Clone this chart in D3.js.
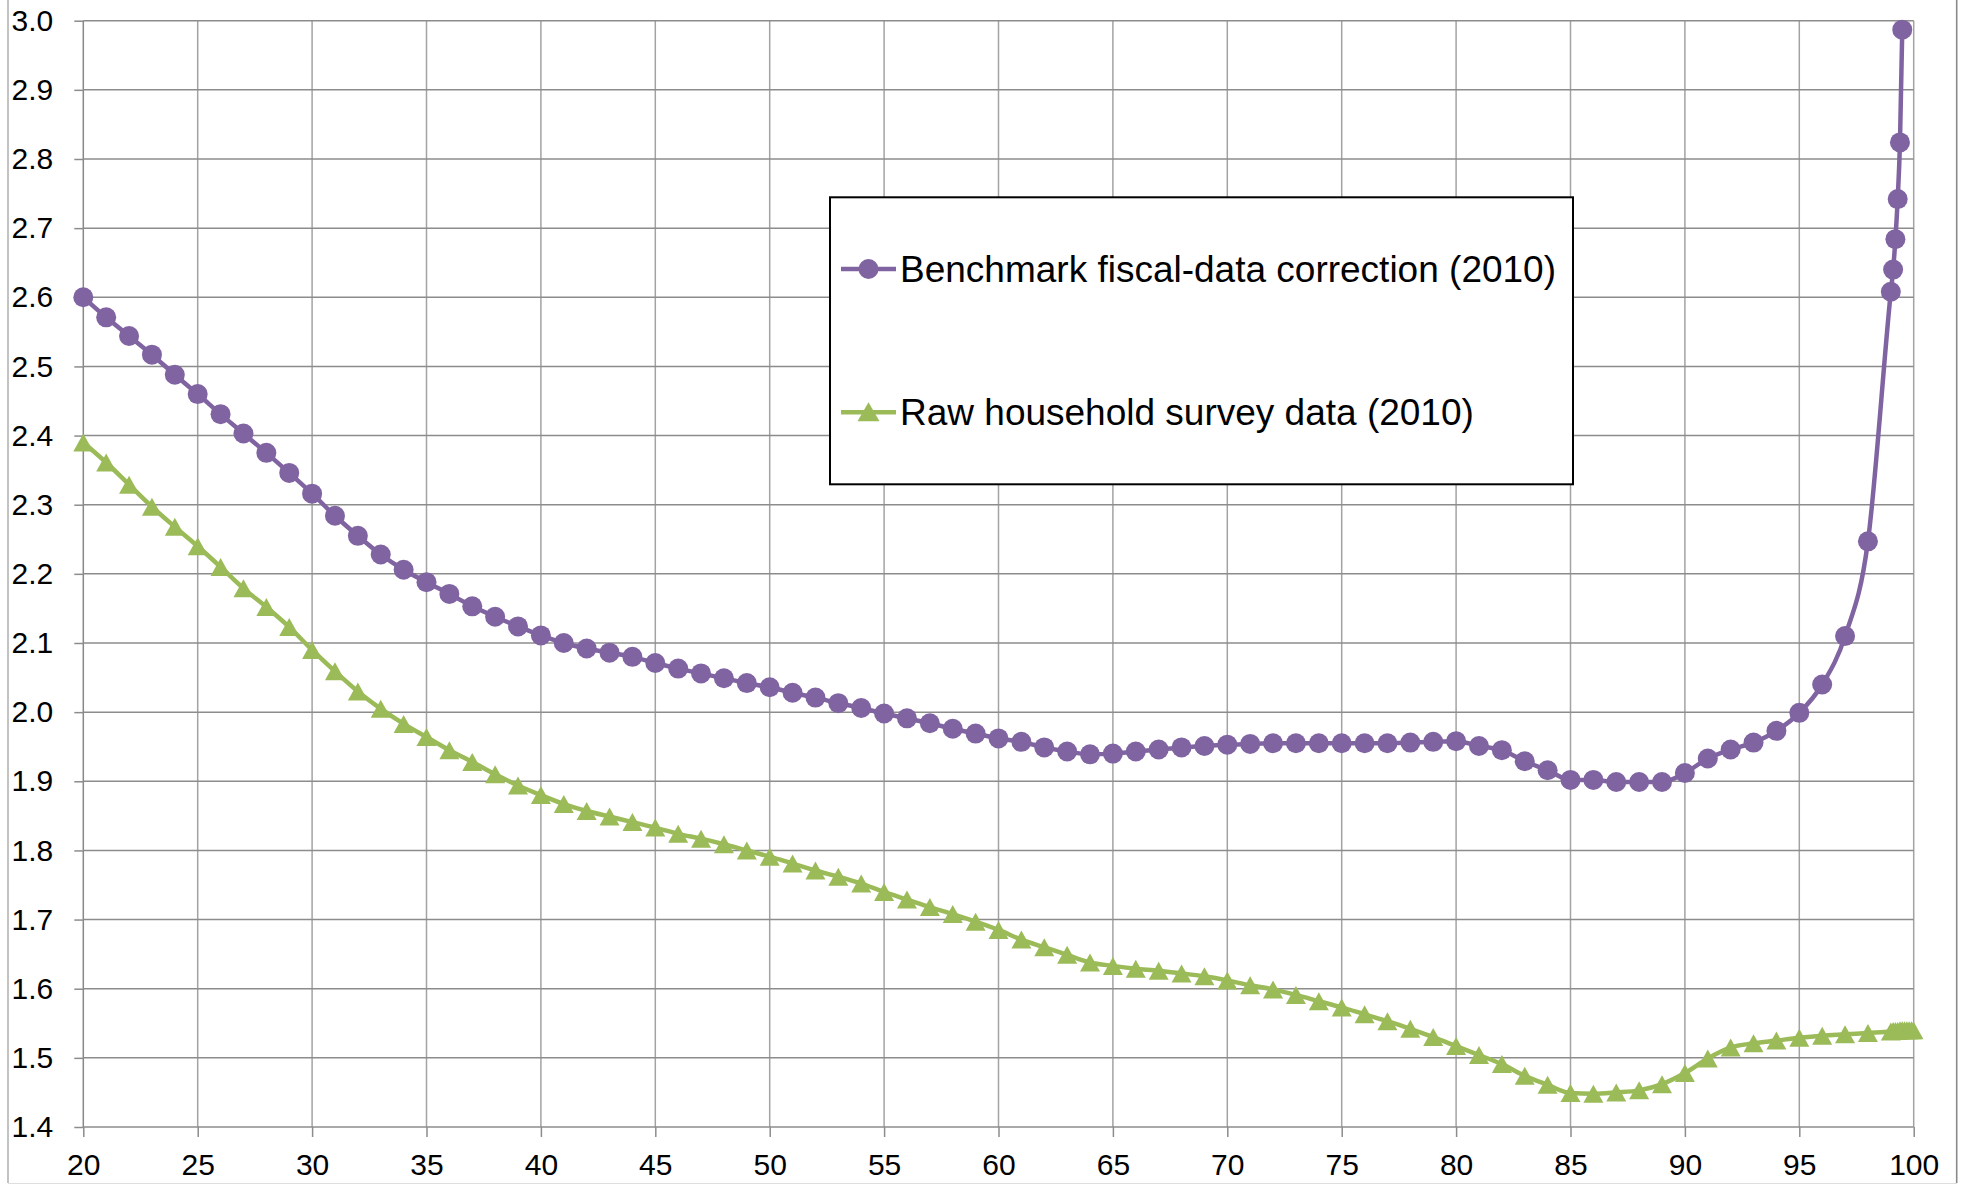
<!DOCTYPE html>
<html>
<head>
<meta charset="utf-8">
<script src="https://cdn.jsdelivr.net/npm/d3@7"></script>
<style>
  body { margin: 0; background: #fff; }
  svg { display: block; font-family: Arial, "Liberation Sans", sans-serif; }
</style>
</head>
<body>
<svg id="chart"></svg>
<script>
// percentiles shared by both series, then the extra top-percentile points
const percentiles = [20, 21, 22, 23, 24, 25, 26, 27, 28, 29, 30, 31, 32, 33, 34, 35, 36, 37, 38, 39,
                     40, 41, 42, 43, 44, 45, 46, 47, 48, 49, 50, 51, 52, 53, 54, 55, 56, 57, 58, 59,
                     60, 61, 62, 63, 64, 65, 66, 67, 68, 69, 70, 71, 72, 73, 74, 75, 76, 77, 78, 79,
                     80, 81, 82, 83, 84, 85, 86, 87, 88, 89, 90, 91, 92, 93, 94, 95, 96, 97, 98, 99];
const benchmarkTop = [99.1, 99.2, 99.3, 99.4, 99.5];
const surveyTop = [99.1, 99.2, 99.3, 99.4, 99.5, 99.6, 99.7, 99.8, 99.9, 99.99];

const benchmarkValues = [2.600, 2.571, 2.544, 2.517, 2.488, 2.460, 2.431, 2.403, 2.375, 2.346,
                         2.316, 2.284, 2.255, 2.228, 2.206, 2.188, 2.171, 2.153, 2.138, 2.124,
                         2.111, 2.100, 2.092, 2.086, 2.080, 2.071, 2.063, 2.056, 2.049, 2.042,
                         2.036, 2.028, 2.021, 2.013, 2.006, 1.998, 1.991, 1.984, 1.976, 1.969,
                         1.962, 1.957, 1.949, 1.943, 1.939, 1.940, 1.943, 1.946, 1.949, 1.951,
                         1.953, 1.954, 1.955, 1.955, 1.955, 1.955, 1.955, 1.955, 1.956, 1.957,
                         1.958, 1.951, 1.945, 1.929, 1.916, 1.902, 1.902, 1.899, 1.899, 1.899,
                         1.912, 1.933, 1.946, 1.956, 1.973, 1.999, 2.040, 2.110, 2.247, 2.608,
                         2.640, 2.684, 2.742, 2.824, 2.987];

const surveyValues = [2.390, 2.361, 2.329, 2.297, 2.268, 2.240, 2.210, 2.179, 2.152, 2.123,
                      2.090, 2.059, 2.030, 2.005, 1.983, 1.964, 1.945, 1.928, 1.910, 1.894,
                      1.880, 1.867, 1.857, 1.849, 1.841, 1.833, 1.824, 1.817, 1.809, 1.800,
                      1.791, 1.781, 1.771, 1.762, 1.752, 1.740, 1.729, 1.718, 1.708, 1.697,
                      1.685, 1.671, 1.660, 1.649, 1.638, 1.633, 1.629, 1.626, 1.622, 1.618,
                      1.612, 1.605, 1.599, 1.591, 1.582, 1.573, 1.563, 1.553, 1.542, 1.530,
                      1.517, 1.504, 1.491, 1.474, 1.461, 1.449, 1.448, 1.450, 1.453, 1.462,
                      1.478, 1.499, 1.515, 1.521, 1.525, 1.529, 1.532, 1.534, 1.536, 1.538,
                      1.539, 1.539, 1.539, 1.540, 1.540, 1.540, 1.540, 1.540, 1.540, 1.540];

const xTicks = [20, 25, 30, 35, 40, 45, 50, 55, 60, 65, 70, 75, 80, 85, 90, 95, 100];
const yTicks = [1.4, 1.5, 1.6, 1.7, 1.8, 1.9, 2.0, 2.1, 2.2, 2.3, 2.4, 2.5, 2.6, 2.7, 2.8, 2.9, 3.0];
const seriesNames = ['Benchmark fiscal-data correction (2010)', 'Raw household survey data (2010)'];


class PercentileChart {

    /**
     *  Two smoothed marker lines over percentiles, Excel look
     *
     *  @param {string} element - svg to draw into
     */

    constructor(element) {
        this.element = element;
        this.width = 1962;
        this.height = 1186;
        this.margin = { top: 20.7, right: 48.3, bottom: 59, left: 83.3 };
        this.colors = ['#8064a2', '#9bbb59'];

        this.init();
    }

    init() {
        let { element, width, height, margin } = this;
        let w = width - margin.left - margin.right;
        let h = height - margin.top - margin.bottom;

        this.svg = d3.select(element)
                     .attr('width', width)
                     .attr('height', height);

        // outer chart frame
        this.svg.append('line').attr('x1', 8).attr('x2', 8).attr('y1', 0).attr('y2', 1183)
            .attr('stroke', '#9a9a9a').attr('stroke-width', 1.2);
        this.svg.append('line').attr('x1', 1956.7).attr('x2', 1956.7).attr('y1', 0).attr('y2', 1183)
            .attr('stroke', '#8a8a8a').attr('stroke-width', 1.6);
        this.svg.append('line').attr('x1', 8).attr('x2', 1957).attr('y1', 1183.5).attr('y2', 1183.5)
            .attr('stroke', '#dedede').attr('stroke-width', 1);

        let g = this.svg.append('g')
                    .attr('transform', `translate(${margin.left},${margin.top})`);

        this.x = d3.scaleLinear().domain([20, 100]).range([0, w]);
        this.y = d3.scaleLinear().domain([1.4, 3.0]).range([h, 0]);

        // grid
        g.append('g').selectAll('line').data(xTicks).join('line')
            .attr('x1', d => this.x(d)).attr('x2', d => this.x(d))
            .attr('y1', 0).attr('y2', h)
            .attr('stroke', d => d === 20 ? '#888' : '#a3a3a3')
            .attr('stroke-width', 1.5);
        g.append('g').selectAll('line').data(yTicks).join('line')
            .attr('x1', 0).attr('x2', w)
            .attr('y1', d => this.y(d)).attr('y2', d => this.y(d))
            .attr('stroke', '#8c8c8c')
            .attr('stroke-width', 1.5);

        this.yAxis = d3.axisLeft(this.y).tickValues(yTicks)
                       .tickFormat(d3.format('.1f')).tickSize(9).tickPadding(21);
        this.xAxis = d3.axisBottom(this.x).tickValues(xTicks)
                       .tickFormat(d3.format('d')).tickSize(10).tickPadding(17);

        let ya = g.append('g').call(this.yAxis);
        let xa = g.append('g').attr('transform', `translate(0,${h})`).call(this.xAxis);
        [ya, xa].forEach(a => {
            a.select('.domain').remove();
            a.selectAll('.tick line').attr('stroke', '#8c8c8c').attr('stroke-width', 1.5);
            a.selectAll('.tick text').attr('fill', '#000').style('font-size', '30px');
        });

        let series = [
            { name: seriesNames[0], xs: percentiles.concat(benchmarkTop), ys: benchmarkValues, marker: 'circle' },
            { name: seriesNames[1], xs: percentiles.concat(surveyTop), ys: surveyValues, marker: 'triangle' }
        ];

        let line = d3.line()
                     .x(d => this.x(d[0]))
                     .y(d => this.y(d[1]))
                     .curve(d3.curveMonotoneX);

        let triangle = 'M0,-9L10,9L-10,9Z';

        series.forEach((s, i) => {
            let pts = s.xs.map((xv, k) => [xv, s.ys[k]]);
            let sg = g.append('g');
            sg.append('path').datum(pts)
                .attr('d', line)
                .attr('fill', 'none')
                .attr('stroke', this.colors[i])
                .attr('stroke-width', 4.5)
                .attr('stroke-linejoin', 'round');
            if (s.marker === 'circle') {
                sg.selectAll('circle').data(pts).join('circle')
                    .attr('cx', d => this.x(d[0]))
                    .attr('cy', d => this.y(d[1]))
                    .attr('r', 10)
                    .attr('fill', this.colors[i]);
            } else {
                sg.selectAll('path.mk').data(pts).join('path')
                    .attr('class', 'mk')
                    .attr('d', triangle)
                    .attr('transform', d => `translate(${this.x(d[0])},${this.y(d[1])})`)
                    .attr('fill', this.colors[i]);
            }
        });

        // legend
        let lg = this.svg.append('g').attr('transform', 'translate(830,197.3)');
        lg.append('rect').attr('width', 743).attr('height', 287)
            .attr('fill', '#fff').attr('stroke', '#000').attr('stroke-width', 2);

        series.forEach((s, i) => {
            let ey = i === 0 ? 71.7 : 215;
            let eg = lg.append('g').attr('transform', `translate(0,${ey})`);
            eg.append('line').attr('x1', 11).attr('x2', 66)
                .attr('stroke', this.colors[i]).attr('stroke-width', 4.5);
            if (s.marker === 'circle') {
                eg.append('circle').attr('cx', 38.5).attr('r', 10).attr('fill', this.colors[i]);
            } else {
                eg.append('path').attr('d', 'M0,-10L11,9L-11,9Z')
                    .attr('transform', 'translate(38.5,0)').attr('fill', this.colors[i]);
            }
            eg.append('text')
                .attr('x', 70).attr('y', 12.5)
                .style('font-size', '37px')
                .attr('fill', '#000')
                .text(s.name);
        });
    }

}

new PercentileChart('#chart');
</script>
</body>
</html>
